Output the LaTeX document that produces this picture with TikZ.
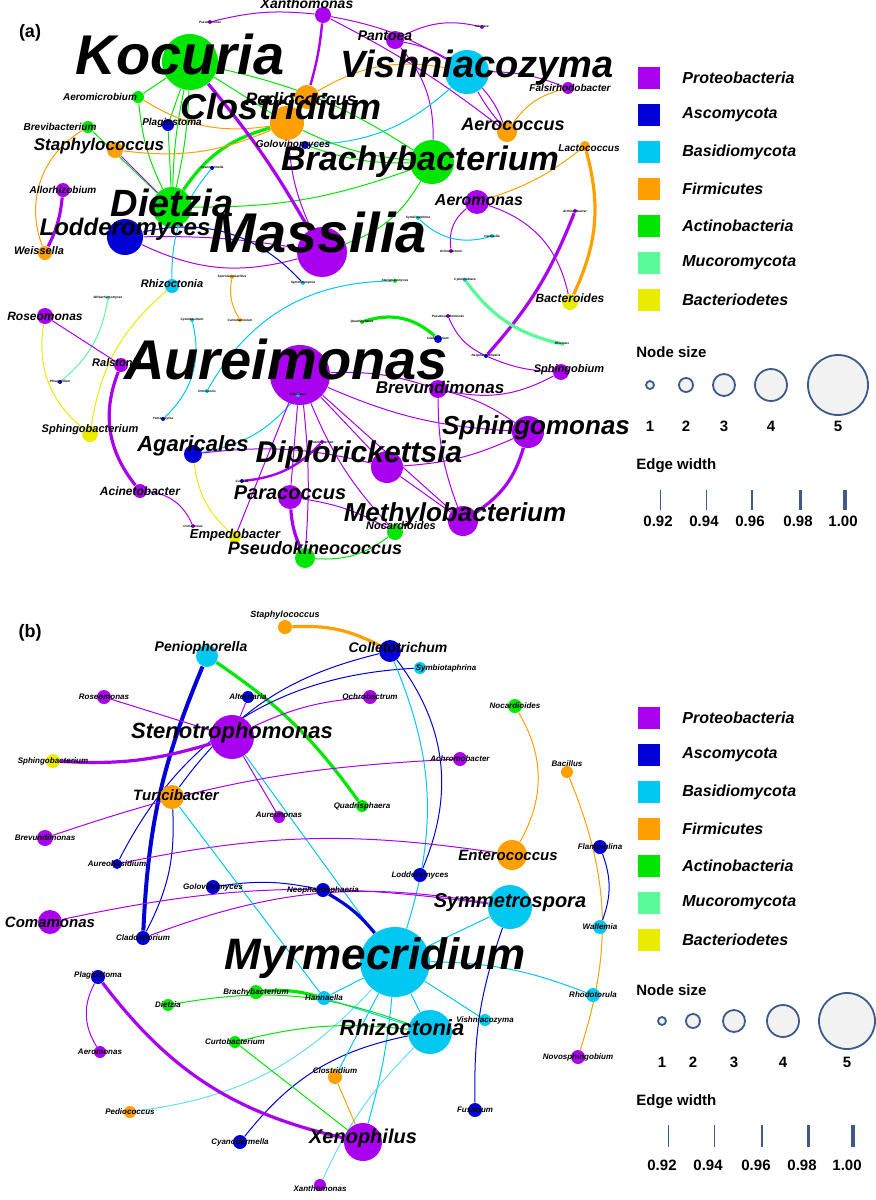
\documentclass[tikz,border=0pt]{standalone}
\usepackage{fontspec}
\setmainfont{Liberation Sans}
\usetikzlibrary{backgrounds}
\definecolor{pur}{RGB}{170,0,240}
\definecolor{blu}{RGB}{0,0,215}
\definecolor{cya}{RGB}{0,200,240}
\definecolor{ora}{RGB}{255,160,0}
\definecolor{gre}{RGB}{0,230,0}
\definecolor{min}{RGB}{90,250,150}
\definecolor{yel}{RGB}{235,235,0}
\definecolor{lgr}{RGB}{242,242,242}
\definecolor{sb}{RGB}{60,90,140}
\tikzset{
 x=0.5pt,y=-0.5pt,
 nd/.style={circle,inner sep=0pt,draw=none},
 lb/.style={inner sep=0pt,font=\bfseries\itshape},
 e/.style={line width=0.5pt},
 E/.style={line width=1.6pt},
 sq/.style={minimum size=11pt,inner sep=0pt,draw=none},
 lg/.style={anchor=west,inner sep=0pt,font=\fontsize{8}{9}\bfseries\itshape\selectfont},
 sz/.style={circle,draw=sb,line width=0.9pt,fill=lgr,inner sep=0pt},
 hd/.style={anchor=west,inner sep=0pt,font=\fontsize{7.5}{9}\bfseries\selectfont},
 nm/.style={inner sep=0pt,font=\fontsize{7.5}{9}\bfseries\selectfont},
 ew/.style={draw=sb}
}
% name x y r color fontsize(pt) dx dy text
\newcommand\Nd[9]{\node[nd,fill=#5,minimum size=#4pt] (#1) at (#2,#3) {};
 \node[lb,font=\fontsize{#6}{#6}\bfseries\itshape\selectfont] (#1-l) at ([xshift=#7pt,yshift=-#8pt]#1) {#9};}
\newcommand\Lgd[2]{%
 \foreach \c/\t [count=\i from 0] in {pur/Proteobacteria,blu/Ascomycota,cya/Basidiomycota,ora/Firmicutes,gre/Actinobacteria,min/Mucoromycota,yel/Bacteriodetes}{
  \node[sq,fill=\c] (sq#2\i) at (649,#1+\i*37) {};
  \node[lg] (lt#2\i) at (682,#1+\i*37) {\t};}}
\begin{document}
\begin{tikzpicture}
\useasboundingbox (0,0) rectangle (876,1200);
% ================= panel a =================
\node[inner sep=0pt,font=\fontsize{9}{9}\bfseries\selectfont] (pa) at (30,33) {(a)};
\Nd{Psm}{210}{22}{2}{pur}{1.6}{0}{0}{Pseudomonas}
\Nd{Xan}{323}{15}{8}{pur}{7}{-8}{-6}{Xanthomonas}
\Nd{Klu}{482}{27}{2}{pur}{1.6}{0}{0}{Kluyvera}
\Nd{Pan}{395}{40}{9}{pur}{7}{-5}{-2}{Pantoea}
\Nd{Koc}{190}{62}{28}{gre}{28}{-5}{-4}{Kocuria}
\Nd{Vis}{467}{72}{22}{cya}{19}{5}{-2}{Vishniacozyma}
\Nd{Ped}{307}{97}{12}{ora}{9}{-3}{1}{Pediococcus}
\Nd{Aer}{138}{97}{6}{gre}{5}{-19}{0}{Aeromicrobium}
\Nd{Fal}{568}{88}{6}{pur}{5}{1}{0}{Falsirhodobacter}
\Nd{Clo}{287}{123}{17}{ora}{18}{-3}{-8}{Clostridium}
\Nd{Aco}{507}{132}{10}{ora}{9}{3}{-4}{Aerococcus}
\Nd{Bre}{88}{127}{6}{gre}{5}{-14}{0}{Brevibacterium}
\Nd{Pla}{168}{125}{6}{blu}{5}{2}{-1}{Plagiostoma}
\Nd{Sta}{115}{150}{8}{ora}{8.5}{-8}{-2}{Staphylococcus}
\Nd{Gol}{305}{145}{4}{blu}{5}{-6}{0}{Golovinomyces}
\Nd{Brc}{432}{162}{22}{gre}{17}{-6}{0}{Brachybacterium}
\Nd{Lac}{585}{146}{5}{ora}{5}{2}{1}{Lactococcus}
\Nd{Cya}{212}{168}{2}{blu}{1.6}{0}{0}{Cyanodermella}
\Nd{All}{63}{190}{7}{pur}{5}{0}{0}{Allorhizobium}
\Nd{Die}{172}{207}{20}{gre}{19}{0}{-2}{Dietzia}
\Nd{Aem}{477}{202}{12}{pur}{8}{1}{-1}{Aeromonas}
\Nd{Ach}{575}{211}{2}{pur}{1.6}{0}{0}{Achromobacter}
\Nd{Lod}{125}{237}{18}{blu}{12}{0}{-4}{Lodderomyces}
\Nd{Mas}{322}{252}{25}{pur}{28}{-2}{-10}{Massilia}
\Nd{Syb}{418}{218}{2}{cya}{1.6}{0}{0}{Symbiotaphrina}
\Nd{Han}{492}{236}{2}{cya}{1.6}{0}{0}{Hannaella}
\Nd{Och}{451}{251}{2}{pur}{1.6}{0}{0}{Ochrobactrum}
\Nd{Wei}{45}{253}{7}{ora}{5.5}{-3}{-1}{Weissella}
\Nd{Rhi}{172}{286}{7}{cya}{5.5}{0}{-1}{Rhizoctonia}
\Nd{Spl}{232}{277}{2}{ora}{1.6}{0}{0}{Sporolactobacillus}
\Nd{Sym}{303}{283}{2}{cya}{1.6}{0}{0}{Symmetrospora}
\Nd{Ste}{395}{281}{2}{gre}{1.6}{0}{0}{Sterigmatomyces}
\Nd{Cyb}{465}{280}{2}{cya}{1.6}{0}{0}{Cyberlindnera}
\Nd{Wic}{108}{298}{2}{min}{1.6}{0}{0}{Wickerhamomyces}
\Nd{Bac}{570}{302}{8}{yel}{6}{0}{-2}{Bacteroides}
\Nd{Ros}{45}{316}{8}{pur}{6}{0}{0}{Roseomonas}
\Nd{Cys}{192}{320}{2}{cya}{1.6}{0}{0}{Cystobasidium}
\Nd{Car}{240}{320}{2}{ora}{1.6}{0}{0}{Carnobacterium}
\Nd{Qua}{362}{322}{2}{gre}{1.6}{0}{0}{Quadrisphaera}
\Nd{Pxa}{448}{316}{2}{pur}{1.6}{0}{0}{Pseudoxanthomonas}
\Nd{Cla}{438}{339}{4}{blu}{1.6}{0}{0}{Cladosporium}
\Nd{Rhp}{562}{344}{2}{min}{1.6}{0}{0}{Rhizopus}
\Nd{Aur}{300}{375}{30}{pur}{28}{-7}{-8}{Aureimonas}
\Nd{Ral}{121}{365}{7}{pur}{5.5}{-2}{-1}{Ralstonia}
\Nd{Neo}{486}{356}{2}{blu}{1.6}{0}{0}{Neophaeosphaeria}
\Nd{Phr}{60}{382}{2}{blu}{1.6}{0}{0}{Phragmidium}
\Nd{Sbi}{561}{372}{8}{pur}{5.5}{4}{-1}{Sphingobium}
\Nd{Brv}{438}{389}{9}{pur}{8.5}{1}{-1}{Brevundimonas}
\Nd{Ocn}{207}{391}{2}{cya}{1.6}{0}{0}{Ochroconis}
\Nd{Til}{298}{395}{2}{cya}{1.6}{0}{0}{Tilletiopsis}
\Nd{Yam}{163}{419}{2}{blu}{1.6}{0}{0}{Yamadazyma}
\Nd{Sbc}{90}{434}{8}{yel}{5.5}{0}{-2}{Sphingobacterium}
\Nd{Sph}{528}{432}{16}{pur}{13}{4}{-2}{Sphingomonas}
\Nd{Ped2}{322}{442}{2}{pur}{1.6}{0}{0}{Pedobacterium}
\Nd{Aga}{193}{454}{9}{blu}{11}{0}{-4}{Agaricales}
\Nd{Dip}{387}{467}{16}{pur}{15}{-14}{-6}{Diplorickettsia}
\Nd{Can}{242}{481}{2}{blu}{1.6}{0}{0}{Candida}
\Nd{Aci}{140}{491}{7}{pur}{6}{0}{0}{Acinetobacter}
\Nd{Par}{290}{497}{12}{pur}{10}{0}{-2}{Paracoccus}
\Nd{Met}{463}{521}{15}{pur}{13}{-4}{-3}{Methylobacterium}
\Nd{Com}{193}{526}{2}{pur}{1.6}{0}{0}{Comamonas}
\Nd{Emp}{235}{537}{6}{yel}{6.5}{0}{-1}{Empedobacter}
\Nd{Noc}{395}{532}{8}{gre}{5.5}{3}{-3}{Nocardioides}
\Nd{Psk}{305}{558}{10}{gre}{9}{5}{-5}{Pseudokineococcus}
\begin{scope}[on background layer]
\draw[e,pur] (Psm) to[bend left=10] (Xan);
\draw[e,pur] (Xan) to[bend left=10] (Vis);
\draw[e,pur] (Xan) to[bend left=5] (Aco);
\draw[E,pur,line width=1.2pt] (Xan) to[bend left=5] (Ped);
\draw[e,pur] (Klu) to[bend right=20] (Pan);
\draw[e,pur] (Pan) to[bend left=10] (Vis);
\draw[e,pur] (Pan) to[bend left=20] (Brc);
\draw[e,pur] (Vis) to[bend left=10] (Fal);
\draw[e,pur] (Vis) to[bend right=5] (Aco);
\draw[e,pur] (Vis) to[bend left=10] (Aco);
\draw[e,ora] (Vis) to[bend right=20] (Ped);
\draw[e,cya] (Vis) to[bend left=20] (Gol);
\draw[e,ora] (Fal) to[bend right=20] (Aco);
\draw[e,gre] (Koc) -- (Clo);
\draw[e,gre] (Koc) to[bend left=10] (Brc);
\draw[e,gre] (Koc) to[bend right=5] (Die);
\draw[e,gre] (Koc) to[bend left=5] (Die);
\draw[e,gre] (Koc) -- (Pla);
\draw[e,gre] (Koc) -- (Aer);
\draw[e,gre] (Aer) to[bend right=10] (Die);
\draw[e,ora] (Aer) to[bend right=20] (Clo);
\draw[e,gre] (Bre) -- (Die);
\draw[e,ora] (Bre) to[bend right=40] (Wei);
\draw[e,gre] (Pla) -- (Die);
\draw[E,gre] (Die) to[bend left=20] (Clo);
\draw[e,ora] (Sta) to[bend right=15] (Clo);
\draw[e,pur] (Sta) -- (Die);
\draw[e,gre] (Clo) to[bend right=10] (Brc);
\draw[e,gre] (Gol) to[bend right=10] (Brc);
\draw[e,gre] (Die) to[bend right=10] (Brc);
\draw[e,gre] (Brc) to[bend left=20] (Mas);
\draw[e,ora] (Lac) to[bend left=10] (Aem);
\draw[E,ora] (Lac) to[bend left=20] (Bac);
\draw[E,pur] (All) to[bend left=10] (Wei);
\draw[E,pur] (Koc) to[bend left=5] (Mas);
\draw[e,pur] (Clo) to[bend right=10] (Mas);
\draw[e,pur] (Lod) to[bend right=20] (Mas);
\draw[e,pur] (Lod) to[bend left=5] (Mas);
\draw[e,blu] (Lod) to[bend left=30] (Sym);
\draw[e,cya] (Cya) to[bend right=20] (Rhi);
\draw[e,pur] (Aem) to[bend right=30] (Och);
\draw[e,pur] (Aem) to[bend left=30] (Bac);
\draw[e,cya] (Syb) to[bend right=30] (Han);
\draw[E,pur] (Ach) to[bend left=10] (Neo);
\draw[e,ora] (Spl) to[bend right=20] (Car);
\draw[e,cya] (Ste) to[bend right=30] (Ocn);
\draw[E,min] (Cyb) to[bend right=20] (Rhp);
\draw[E,gre] (Qua) to[bend left=30] (Cla);
\draw[e,pur] (Pxa) to[bend right=20] (Neo);
\draw[e,pur] (Neo) to[bend right=10] (Sbi);
\draw[e,pur] (Sbi) to[bend left=20] (Brv);
\draw[e,min] (Wic) to[bend left=20] (Phr);
\draw[e,yel] (Rhi) to[bend right=20] (Sbc);
\draw[e,yel] (Ros) to[bend right=30] (Sbc);
\draw[e,pur] (Ros) -- (Ral);
\draw[E,pur] (Ral) to[bend right=30] (Aci);
\draw[e,cya] (Cys) to[bend left=30] (Yam);
\draw[e,cya] (Til) to[bend left=20] (Aga);
\draw[e,pur] (Aci) to[bend left=30] (Com);
\draw[e,yel] (Aga) to[bend right=20] (Emp);
\draw[e,pur] (Aga) to[bend left=10] (Dip);
\draw[E,pur,line width=1.2pt] (Can) to[bend right=20] (Ped2);
\draw[e,pur] (Aur) to[bend left=10] (Brv);
\draw[e,pur] (Aur) to[bend right=10] (Sph);
\draw[e,pur] (Aur) -- (Dip);
\draw[e,pur] (Aur) -- (Met);
\draw[e,pur] (Aur) -- (Par);
\draw[e,pur] (Aur) to[bend left=5] (Psk);
\draw[e,pur] (Aur) to[bend right=10] (Noc);
\draw[e,pur] (Aur) -- (Emp);
\draw[e,pur] (Brv) to[bend right=10] (Met);
\draw[e,pur] (Brv) to[bend left=10] (Sph);
\draw[e,pur] (Dip) to[bend right=10] (Sph);
\draw[E,pur] (Sph) to[bend left=20] (Met);
\draw[e,pur] (Dip) -- (Met);
\draw[E,pur] (Par) to[bend right=10] (Psk);
\draw[e,pur] (Par) to[bend left=10] (Noc);
\draw[e,gre] (Psk) to[bend right=20] (Noc);
\end{scope}
\Lgd{78}{a}
\node[hd] (nsa) at (636,352) {Node size};
\foreach \x/\r/\n [count=\i] in {650/4/1,686/7/2,724/11/3,771/16/4,838/30/5}{
 \node[sz,minimum size=\r pt] (ca\i) at (\x,385) {};
 \node[nm] (na\i) at (\x,426) {\n};}
\node[hd] (ewa) at (636,466) {Edge width};
\foreach \x/\w/\n [count=\i] in {660/0.4/0.92,706/0.5/0.94,752/0.7/0.96,800/1.5/0.98,845/1.6/1.00}{
 \coordinate (la\i) at (\x,490); \coordinate (lb\i) at (\x,510);
 \draw[ew,line width=\w pt] (la\i) -- (lb\i);
 \node[nm] (ma\i) at (\x-2,521) {\n};}
% ================= panel b =================
\node[inner sep=0pt,font=\fontsize{9}{9}\bfseries\selectfont] (pb) at (30,633) {(b)};
\Nd{bSta}{285}{627}{7}{ora}{4.5}{0}{-6}{Staphylococcus}
\Nd{bPen}{207}{656}{11}{cya}{7}{-3}{-4}{Peniophorella}
\Nd{bCol}{390}{651}{11}{blu}{7}{4}{-2}{Colletotrichum}
\Nd{bSyb}{420}{668}{6}{cya}{4}{13}{0}{Symbiotaphrina}
\Nd{bNoc}{515}{706}{7}{gre}{4}{0}{0}{Nocardioides}
\Nd{bRos}{104}{697}{7}{pur}{4}{0}{0}{Roseomonas}
\Nd{bAlt}{248}{697}{6}{blu}{4}{0}{0}{Alternaria}
\Nd{bOch}{370}{697}{7}{pur}{4}{0}{0}{Ochrobactrum}
\Nd{bSte}{232}{737}{22}{pur}{11}{0}{-2}{Stenotrophomonas}
\Nd{bSbc}{53}{761}{7}{yel}{4}{0}{0}{Sphingobacterium}
\Nd{bBac}{567}{772}{6}{ora}{4}{0}{-4}{Bacillus}
\Nd{bAch}{460}{759}{7}{pur}{4}{0}{0}{Achromobacter}
\Nd{bTur}{172}{797}{12}{ora}{7.5}{2}{-1}{Turicibacter}
\Nd{bAur}{279}{817}{6}{pur}{4}{0}{-1}{Aureimonas}
\Nd{bQua}{362}{806}{6}{gre}{4}{0}{0}{Quadrisphaera}
\Nd{bBrv}{45}{838}{8}{pur}{4}{0}{0}{Brevundimonas}
\Nd{bFla}{600}{847}{7}{blu}{4}{0}{0}{Flammulina}
\Nd{bAub}{117}{864}{5}{blu}{4}{0}{0}{Aureobasidium}
\Nd{bEnt}{512}{855}{15}{ora}{7.5}{-2}{0}{Enterococcus}
\Nd{bLod}{420}{875}{7}{blu}{4}{0}{0}{Lodderomyces}
\Nd{bGol}{213}{887}{7}{blu}{4}{0}{0}{Golovinomyces}
\Nd{bNeo}{323}{890}{7}{blu}{4}{0}{0}{Neophaeosphaeria}
\Nd{bSym}{510}{907}{22}{cya}{10}{0}{-2}{Symmetrospora}
\Nd{bCom}{50}{922}{12}{pur}{7.5}{0}{0}{Comamonas}
\Nd{bCla}{143}{938}{7}{blu}{4}{0}{0}{Cladosporium}
\Nd{bWal}{600}{927}{7}{cya}{4}{0}{0}{Wallemia}
\Nd{bMyr}{395}{962}{35}{cya}{22}{-10}{-2}{Myrmecridium}
\Nd{bPla}{98}{977}{7}{blu}{4}{0}{-1}{Plagiostoma}
\Nd{bBrc}{256}{992}{7}{gre}{4}{0}{0}{Brachybacterium}
\Nd{bHan}{324}{998}{7}{cya}{4}{0}{0}{Hannaella}
\Nd{bRho}{593}{995}{7}{cya}{4}{0}{0}{Rhodotorula}
\Nd{bDie}{168}{1005}{6}{gre}{4}{0}{0}{Dietzia}
\Nd{bVis}{485}{1020}{6}{cya}{4}{0}{0}{Vishniacozyma}
\Nd{bRhi}{430}{1032}{22}{cya}{11}{-14}{-2}{Rhizoctonia}
\Nd{bCur}{235}{1042}{6}{gre}{4}{0}{0}{Curtobacterium}
\Nd{bNov}{578}{1057}{7}{pur}{4}{0}{0}{Novosphingobium}
\Nd{bAem}{100}{1052}{6}{pur}{4}{0}{0}{Aeromonas}
\Nd{bClo}{335}{1077}{7}{ora}{4}{0}{-3}{Clostridium}
\Nd{bPed}{130}{1112}{6}{ora}{4}{0}{0}{Pediococcus}
\Nd{bFus}{475}{1110}{7}{blu}{4}{0}{0}{Fusarium}
\Nd{bCya}{240}{1142}{7}{blu}{4}{0}{0}{Cyanodermella}
\Nd{bXen}{363}{1142}{19}{pur}{10}{0}{-2}{Xenophilus}
\Nd{bXan}{320}{1185}{6}{pur}{4}{0}{2}{Xanthomonas}
\begin{scope}[on background layer]
\draw[E,blu,line width=2pt] (bPen) to[bend right=10] (bCla);
\draw[E,gre] (bPen) to[bend left=10] (bQua);
\draw[E,ora] (bSta) to[bend left=15] (bCol);
\draw[e,blu] (bCol) to[bend right=20] (bTur);
\draw[e,blu] (bCol) to[bend left=30] (bLod);
\draw[e,blu] (bSyb) to[bend right=30] (bAub);
\draw[e,cya] (bCol) to[bend left=20] (bMyr);
\draw[E,pur] (bSte) to[bend left=10] (bSbc);
\draw[e,pur] (bSte) -- (bRos);
\draw[e,pur] (bSte) -- (bAlt);
\draw[e,pur] (bSte) -- (bAur);
\draw[e,pur] (bSte) to[bend left=10] (bOch);
\draw[e,cya] (bSte) -- (bMyr);
\draw[e,blu] (bTur) to[bend left=15] (bCla);
\draw[e,pur] (bBrv) to[bend left=8] (bAch);
\draw[e,pur] (bAub) to[bend left=10] (bEnt);
\draw[e,ora] (bNoc) to[bend left=30] (bEnt);
\draw[e,ora] (bBac) to[bend left=20] (bNov);
\draw[e,blu] (bFla) to[bend left=20] (bWal);
\draw[e,blu] (bGol) to[bend left=10] (bNeo);
\draw[E,blu] (bNeo) to[bend left=10] (bMyr);
\draw[e,pur] (bCom) to[bend left=10] (bSym);
\draw[e,pur] (bCla) to[bend left=15] (bSym);
\draw[e,cya] (bMyr) -- (bSym);
\draw[e,cya] (bMyr) to[bend left=10] (bRho);
\draw[e,cya] (bMyr) -- (bVis);
\draw[e,cya] (bMyr) -- (bRhi);
\draw[e,cya] (bMyr) -- (bHan);
\draw[e,cya] (bMyr) to[bend left=5] (bXen);
\draw[e,blu] (bSym) to[bend right=10] (bFus);
\draw[e,cya!60] (bPed) to[bend right=20] (bMyr);
\draw[E,gre] (bBrc) to[bend left=10] (bHan);
\draw[e,cya] (bHan) -- (bRhi);
\draw[e,cya] (bTur) -- (bHan);
\draw[e,gre] (bDie) to[bend left=15] (bRhi);
\draw[e,gre] (bCur) to[bend left=10] (bRhi);
\draw[e,blu] (bCya) to[bend left=20] (bRhi);
\draw[e,cya!60] (bXan) to[bend left=10] (bRhi);
\draw[e,pur] (bPla) to[bend right=30] (bAem);
\draw[E,pur] (bPla) to[bend right=20] (bXen);
\draw[e,ora] (bClo) -- (bXen);
\draw[e,gre] (bCur) -- (bXen);
\draw[e,cya] (bMyr) -- (bClo);
\end{scope}
\Lgd{718}{b}
\node[hd] (nsb) at (636,990) {Node size};
\foreach \x/\r/\n [count=\i] in {662/4/1,693/7/2,734/11/3,783/16/4,847/28/5}{
 \node[sz,minimum size=\r pt] (cb\i) at (\x,1021) {};
 \node[nm] (nb\i) at (\x,1062) {\n};}
\node[hd] (ewb) at (636,1102) {Edge width};
\foreach \x/\w/\n [count=\i] in {668/0.4/0.92,714/0.5/0.94,762/0.7/0.96,808/1.5/0.98,853/1.6/1.00}{
 \coordinate (lc\i) at (\x,1125); \coordinate (ld\i) at (\x,1147);
 \draw[ew,line width=\w pt] (lc\i) -- (ld\i);
 \node[nm] (mb\i) at (\x-6,1165) {\n};}
\end{tikzpicture}
\end{document}
